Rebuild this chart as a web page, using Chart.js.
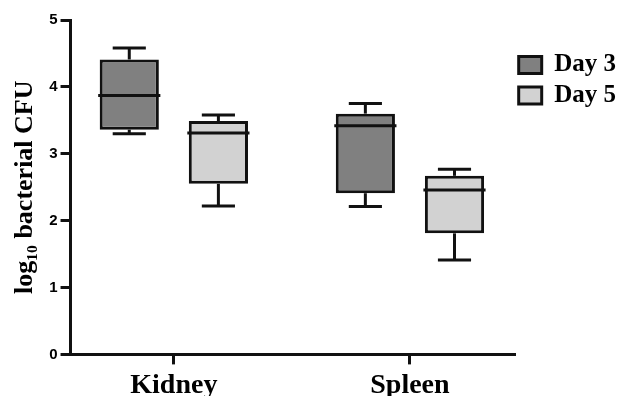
<!DOCTYPE html>
<html>
<head>
<meta charset="utf-8">
<script src="https://cdn.jsdelivr.net/npm/chart.js@4/dist/chart.umd.min.js"></script>
<style>
html,body{margin:0;padding:0;background:#fff;overflow:hidden;}
#wrap{width:618px;height:408px;}
</style>
</head>
<body>
<div id="wrap"><canvas id="c" width="618" height="408"></canvas></div>
<script>
// ---- data ----
const categories = ['Kidney', 'Spleen'];
const seriesNames = ['Day 3', 'Day 5'];
const day3Min    = [3.30, 2.21];
const day3Q1     = [3.36, 2.41];
const day3Median = [3.87, 3.42];
const day3Q3     = [4.41, 3.60];
const day3Max    = [4.58, 3.75];
const day5Min    = [2.22, 1.41];
const day5Q1     = [2.55, 1.81];
const day5Median = [3.31, 2.46];
const day5Q3     = [3.49, 2.67];
const day5Max    = [3.58, 2.77];
const yTicks = [0, 1, 2, 3, 4, 5];
const yTitle = 'log\u2081\u2080 bacterial CFU';

const stats = [
  {min: day3Min, q1: day3Q1, med: day3Median, q3: day3Q3, max: day3Max},
  {min: day5Min, q1: day5Q1, med: day5Median, q3: day5Q3, max: day5Max}
];
const fills = ['#808080', '#d2d2d2'];
const ink = '#111111';

const whiskerPlugin = {
  id: 'whiskers',
  afterDatasetsDraw(chart) {
    const ctx = chart.ctx, ys = chart.scales.y;
    ctx.save();
    ctx.strokeStyle = ink;
    ctx.lineWidth = 3;
    ctx.lineCap = 'butt';
    const line = (x1, y1, x2, y2) => { ctx.beginPath(); ctx.moveTo(x1, y1); ctx.lineTo(x2, y2); ctx.stroke(); };
    chart.data.datasets.forEach((ds, i) => {
      const s = stats[i];
      chart.getDatasetMeta(i).data.forEach((bar, j) => {
        const hw = bar.width / 2, cw = bar.width * 0.28;
        const yMed = ys.getPixelForValue(s.med[j]);
        const yQ1 = ys.getPixelForValue(s.q1[j]);
        const yQ3 = ys.getPixelForValue(s.q3[j]);
        const yMin = ys.getPixelForValue(s.min[j]);
        const yMax = ys.getPixelForValue(s.max[j]);
        line(bar.x, yQ3, bar.x, yMax);
        line(bar.x - cw, yMax, bar.x + cw, yMax);
        line(bar.x, yQ1, bar.x, yMin);
        line(bar.x - cw, yMin, bar.x + cw, yMin);
        line(bar.x - hw - 1.5, yMed, bar.x + hw + 1.5, yMed);
      });
    });
    ctx.restore();
  }
};

const bgPlugin = {
  id: 'bg',
  beforeDraw(chart) {
    const ctx = chart.ctx;
    ctx.save();
    ctx.fillStyle = '#fff';
    ctx.fillRect(0, 0, chart.width, chart.height);
    ctx.restore();
  }
};

const datasets = stats.map((s, i) => ({
  label: seriesNames[i],
  data: categories.map((c, j) => ({x: j + 1, y: [s.q1[j], s.q3[j]]})),
  backgroundColor: fills[i],
  borderColor: ink,
  borderWidth: 3,
  borderSkipped: false,
  categoryPercentage: 0.755,
  barPercentage: 0.664
}));

new Chart(document.getElementById('c'), {
  type: 'bar',
  data: {datasets},
  plugins: [bgPlugin, whiskerPlugin],
  options: {
    responsive: false,
    animation: false,
    layout: {padding: {top: 20, left: 7, right: -8, bottom: 0}},
    plugins: {
      tooltip: {enabled: false},
      legend: {
        position: 'right',
        align: 'start',
        title: {display: true, text: '', padding: {top: 15, bottom: 0}},
        labels: {
          boxWidth: 23,
          boxHeight: 17,
          padding: 3,
          color: '#000',
          font: {family: "'Liberation Serif', serif", weight: 'bold', size: 25, lineHeight: 1.1},
          generateLabels: (chart) => Chart.defaults.plugins.legend.labels.generateLabels(chart)
            .map(it => Object.assign(it, {text: [it.text]}))
        }
      }
    },
    scales: {
      x: {
        type: 'linear',
        min: 0.5625,
        max: 2.448,
        offset: false,
        afterBuildTicks: (scale) => { scale.ticks = categories.map((c, j) => ({value: j + 1})); },
        ticks: {
          autoSkip: false,
          maxRotation: 0,
          padding: 5,
          color: '#000',
          font: {family: "'Liberation Serif', serif", weight: 'bold', size: 28},
          callback: (v) => categories[v - 1]
        },
        grid: {display: true, drawOnChartArea: false, offset: false, tickLength: 10, tickWidth: 3, tickColor: ink},
        border: {display: true, width: 3, color: ink}
      },
      y: {
        min: 0,
        max: 5,
        afterBuildTicks: (scale) => { scale.ticks = yTicks.map(v => ({value: v})); },
        ticks: {
          padding: 3,
          color: '#000',
          font: {family: "'Liberation Sans', Arial, sans-serif", weight: 'bold', size: 15}
        },
        grid: {display: true, drawOnChartArea: false, tickLength: 10, tickWidth: 3, tickColor: ink},
        border: {display: true, width: 3, color: ink},
        title: {
          display: true,
          text: yTitle,
          color: '#000',
          padding: {top: 3, bottom: 5},
          font: {family: "'Liberation Serif', serif", weight: 'bold', size: 26}
        }
      }
    }
  }
});
</script>
</body>
</html>
